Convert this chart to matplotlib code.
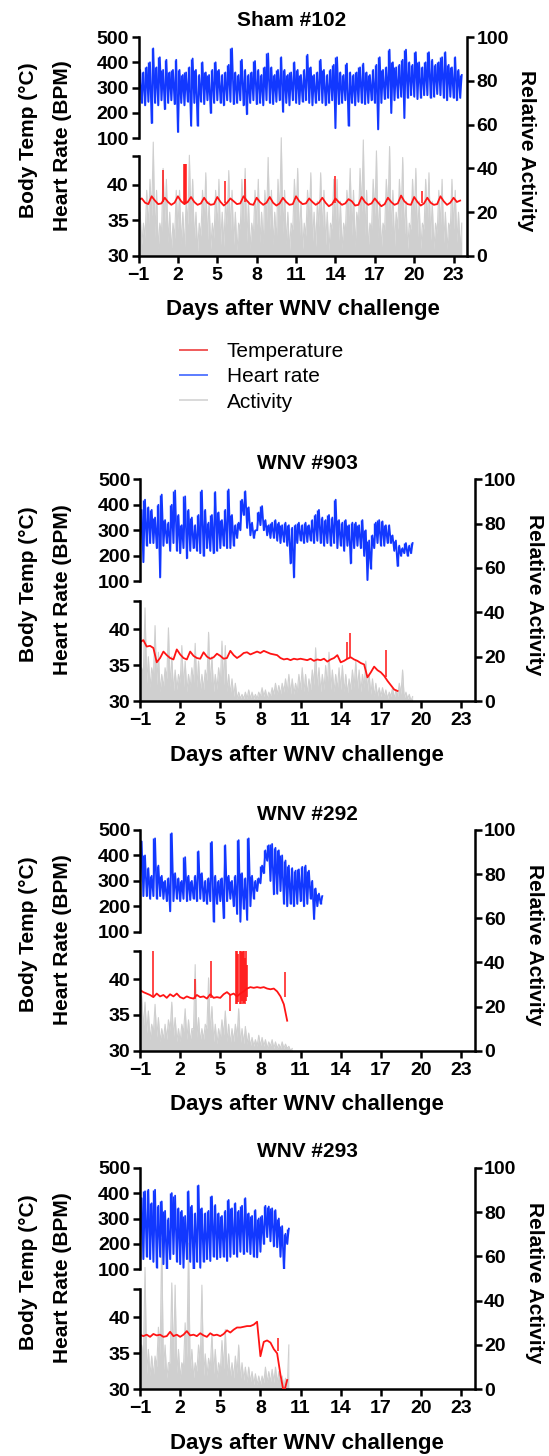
import numpy as np
import matplotlib.pyplot as plt
from matplotlib.lines import Line2D

plt.rcParams['font.family'] = ['Liberation Sans', 'DejaVu Sans']
plt.rcParams['font.weight'] = 'bold'
plt.rcParams['axes.linewidth'] = 1.8

W, H, DPI = 549, 1456, 100

titles = ['Sham #102', 'WNV #903', 'WNV #292', 'WNV #293']
day_ticks = [-1, 2, 5, 8, 11, 14, 17, 20, 23]
hr_ticks = [100, 200, 300, 400, 500]
temp_ticks = [30, 35, 40, 44]
temp_ticklabels = ['30', '35', '40', '']
act_ticks = [0, 20, 40, 60, 80, 100]
legend_labels = ['Temperature', 'Heart rate', 'Activity']

# all series: quarter-day samples starting at day -1
# ---- Sham #102 ----
hr1_hi = [370, 360, 380, 400, 455, 380, 420, 370, 410, 360, 370, 410, 370, 350, 360, 380,
          415, 370, 350, 400, 360, 350, 370, 400, 370, 350, 360, 390, 455, 360, 350, 410,
          370, 350, 360, 405, 370, 350, 380, 435, 380, 350, 370, 420, 370, 350, 360, 400,
          370, 350, 370, 430, 380, 350, 360, 410, 370, 350, 370, 390, 420, 360, 350, 395,
          360, 350, 360, 380, 395, 360, 350, 370, 390, 420, 370, 380, 450, 400, 380, 390,
          410, 450, 400, 390, 440, 400, 380, 400, 440, 410, 390, 400, 420, 440, 390, 380,
          420, 370, 350]
hr1_lo = [250, 240, 230, 245, 160, 240, 230, 250, 215, 240, 250, 235, 125, 240, 230, 245,
          150, 240, 150, 245, 235, 250, 200, 240, 250, 240, 230, 250, 245, 235, 240, 250,
          230, 195, 240, 250, 235, 240, 230, 250, 240, 235, 245, 250, 205, 240, 230, 250,
          240, 235, 245, 250, 240, 230, 240, 250, 240, 230, 240, 250, 140, 235, 240, 250,
          150, 240, 230, 245, 240, 235, 240, 250, 240, 135, 240, 255, 260, 200, 250, 260,
          265, 180, 260, 270, 265, 255, 260, 270, 270, 260, 265, 275, 270, 260, 250, 265,
          260, 250, 260]
temp1 = [37.9, 38.1, 37.5, 37.3, 38.4, 37.8, 37.3, 37.4, 38.2, 37.6, 37.2, 37.5,
         38.4, 37.7, 37.3, 37.6, 38.3, 37.6, 37.2, 37.4, 38.2, 37.5, 37.2, 37.3,
         38.3, 37.6, 37.1, 37.5, 38.1, 37.7, 37.3, 37.4, 38.4, 37.8, 37.3, 37.2,
         38.2, 37.6, 37.2, 37.5, 38.3, 37.5, 37.1, 37.4, 38.2, 37.6, 37.2, 37.3,
         38.4, 37.7, 37.3, 37.4, 38.1, 37.6, 37.2, 37.5, 38.2, 37.5, 37.0, 37.3,
         38.1, 37.6, 37.2, 37.4, 38.0, 37.7, 37.1, 37.2, 38.3, 37.6, 37.2, 37.4,
         38.1, 37.5, 37.0, 37.3, 38.2, 37.6, 37.2, 37.4, 38.5, 37.7, 37.3, 37.2,
         38.3, 37.6, 37.1, 37.4, 38.2, 37.5, 37.2, 37.3, 38.4, 37.7, 37.2, 37.5,
         38.2, 37.6, 37.8]
spike1_day = [0.85, 2.45, 2.55, 2.65, 5.6, 7.1, 14.0, 20.6]
spike1_lo = [37.6, 37.5, 37.5, 37.5, 37.5, 37.6, 37.4, 37.5]
spike1_hi = [42.1, 42.9, 42.9, 42.9, 40.6, 40.8, 41.3, 39.1]
act1_hi = [20, 15, 30, 35, 52, 30, 15, 40, 35, 20, 15, 30, 30, 20, 25, 46,
           35, 20, 15, 30, 38, 25, 15, 30, 35, 20, 25, 39, 30, 20, 15, 35,
           40, 25, 15, 30, 35, 20, 30, 45, 30, 20, 35, 54, 30, 20, 15, 35,
           40, 25, 15, 30, 38, 20, 25, 38, 30, 20, 15, 35, 35, 25, 15, 30,
           40, 30, 20, 40, 53, 30, 15, 35, 48, 25, 15, 35, 50, 30, 20, 35,
           45, 25, 15, 35, 40, 25, 15, 35, 38, 25, 15, 30, 35, 20, 15, 35,
           30, 20, 15]
act1_lo = [10, 5, 8, 12, 18, 8, 3, 10, 15, 6, 2, 8, 12, 5, 3, 14,
           15, 6, 2, 9, 14, 6, 3, 8, 12, 5, 4, 14, 10, 5, 2, 12,
           15, 6, 3, 9, 14, 6, 5, 15, 12, 5, 6, 18, 10, 5, 2, 12,
           16, 7, 3, 9, 14, 6, 4, 13, 10, 5, 2, 12, 15, 7, 3, 10,
           18, 9, 4, 14, 20, 9, 3, 12, 18, 8, 3, 12, 20, 9, 4, 12,
           16, 8, 3, 12, 15, 8, 3, 12, 14, 7, 3, 10, 13, 6, 3, 12,
           12, 6, 3]

# ---- WNV #903 ----
hr2_hi = [380, 420, 390, 380, 350, 400, 440, 340, 330, 400, 456, 360, 320, 433, 380, 350,
          320, 360, 456, 380, 330, 360, 450, 370, 340, 380, 460, 360, 320, 330, 420, 453,
          390, 330, 300, 370, 395, 340, 320, 330, 340, 330, 320, 330, 320, 310, 320, 330,
          320, 330, 320, 340, 360, 380, 350, 340, 360, 350, 420, 340, 330, 340, 320, 330,
          330, 320, 340, 300, 260, 280, 330, 340, 335, 320, 320, 280, 260, 240, 230, 250,
          240, 250]
hr2_lo = [250, 175, 240, 250, 250, 230, 115, 240, 250, 220, 250, 220, 210, 230, 190, 220,
          230, 220, 210, 200, 230, 220, 210, 220, 230, 240, 230, 230, 240, 270, 300, 360,
          310, 280, 270, 300, 320, 300, 280, 270, 270, 260, 250, 255, 240, 170, 115, 250,
          260, 250, 255, 260, 250, 260, 250, 240, 250, 240, 250, 230, 240, 220, 240, 170,
          230, 240, 230, 200, 105, 150, 230, 250, 240, 240, 250, 250, 220, 160, 200, 210,
          200, 210]
temp2 = [38.2, 38.5, 37.6, 37.7, 37.4, 35.4, 36.0, 36.9, 36.4, 36.0, 35.8, 37.2,
         36.5, 36.0, 35.8, 36.9, 36.3, 36.0, 35.9, 36.8, 36.2, 35.9, 36.1, 36.6,
         36.3, 35.9, 36.0, 37.0, 36.4, 36.0, 36.3, 36.7, 36.8, 36.5, 36.7, 36.9,
         36.7, 37.0, 36.8, 36.6, 36.5, 36.4, 36.0, 35.8, 35.9, 35.7, 35.9, 35.8,
         35.9, 35.8, 35.7, 35.9, 35.6, 35.8, 35.7, 35.9, 35.5, 35.8, 36.0, 36.4,
         35.4, 35.6, 35.9, 36.1, 35.8, 35.6, 35.3, 35.1, 33.3, 34.0, 34.8, 34.3,
         34.0, 33.5, 32.8, 32.2, 31.6, 31.4]
spike2_day = [14.5, 14.7, 17.4]
spike2_lo = [35.9, 36.0, 33.4]
spike2_hi = [38.3, 39.5, 37.1]
act2_hi = [15, 42, 20, 15, 34, 22, 12, 15, 33, 20, 14, 12, 25, 18, 12, 15,
           26, 18, 12, 14, 31, 20, 12, 15, 27, 25, 12, 10, 8, 4, 3, 4,
           5, 4, 3, 4, 6, 5, 4, 6, 8, 7, 8, 10, 12, 10, 8, 12,
           15, 12, 10, 14, 24, 15, 12, 16, 22, 14, 12, 15, 16, 12, 10, 14,
           18, 14, 12, 18, 12, 10, 8, 6, 6, 5, 4, 6, 5, 8, 14, 4,
           3, 2]
act2_lo = [6, 12, 8, 6, 10, 7, 4, 6, 10, 6, 4, 5, 8, 6, 4, 6,
           8, 6, 4, 5, 9, 6, 4, 5, 8, 7, 4, 3, 2, 1, 1, 1,
           1, 1, 1, 1, 2, 2, 1, 2, 3, 3, 3, 4, 4, 3, 3, 4,
           5, 4, 3, 5, 7, 5, 4, 5, 7, 5, 4, 5, 5, 4, 3, 5,
           6, 5, 4, 6, 4, 3, 2, 2, 2, 2, 1, 2, 1, 2, 3, 1,
           1, 0]

# ---- WNV #292 ----
hr3_hi = [455, 400, 350, 320, 467, 360, 320, 300, 310, 487, 330, 310, 300, 393, 320, 300,
          320, 416, 330, 300, 310, 453, 320, 300, 310, 440, 320, 300, 320, 460, 330, 310,
          467, 320, 300, 310, 360, 420, 440, 445, 430, 420, 400, 380, 360, 350, 340, 345,
          355, 360, 340, 300, 270, 250, 240]
hr3_lo = [300, 240, 240, 230, 240, 230, 240, 230, 220, 180, 220, 230, 220, 230, 220, 225,
          230, 220, 230, 220, 210, 220, 140, 210, 220, 153, 220, 230, 200, 170, 140, 190,
          147, 200, 230, 260, 290, 330, 380, 300, 247, 250, 260, 210, 200, 210, 200, 210,
          220, 200, 210, 230, 150, 200, 210]
temp3 = [38.5, 38.2, 38.0, 37.8, 37.5, 38.0, 37.6, 37.8, 37.4, 37.9, 37.6, 38.0,
         37.5, 37.3, 37.6, 37.4, 37.3, 37.8, 37.5, 37.6, 37.3, 37.9, 37.4, 37.5,
         37.4, 37.9, 38.2, 37.8, 38.0, 37.6, 38.0, 38.3, 38.7, 38.9, 38.8, 38.9,
         38.8, 38.9, 38.7, 38.6, 38.7, 38.3, 37.6, 36.5, 34.2]
spike3_day = [-0.05, 3.1, 4.3, 5.7, 6.2, 6.28, 6.36, 6.44, 6.52, 6.6, 6.68, 6.76, 6.84, 6.92, 7.0, 9.85]
spike3_lo = [37.6, 37.3, 37.4, 35.6, 36.6, 36.5, 36.8, 36.5, 36.6, 36.9, 36.5, 36.7, 36.6, 37.0, 37.5, 37.5]
spike3_hi = [44.0, 40.0, 42.6, 38.0, 44.0, 44.0, 43.5, 44.0, 44.0, 43.8, 44.0, 44.0, 43.0, 44.0, 42.0, 41.0]
act3_hi = [25, 22, 18, 12, 21, 15, 10, 12, 14, 22, 15, 10, 12, 19, 14, 10,
           39, 15, 10, 12, 33, 20, 12, 10, 14, 18, 12, 10, 12, 19, 10, 11,
           8, 6, 5, 7, 6, 5, 4, 5, 4, 3, 4, 3, 2, 1]
act3_lo = [12, 10, 8, 5, 8, 6, 4, 5, 5, 9, 6, 4, 4, 8, 5, 4,
           10, 6, 4, 5, 10, 7, 4, 3, 5, 7, 4, 3, 4, 6, 3, 3,
           3, 2, 2, 2, 2, 2, 1, 2, 1, 1, 1, 1, 1, 0]

# ---- WNV #293 ----
hr4_hi = [380, 407, 413, 360, 413, 350, 367, 330, 300, 400, 390, 340, 330, 310, 407, 350,
          320, 430, 340, 320, 330, 387, 353, 320, 310, 330, 373, 340, 360, 330, 350, 380,
          320, 310, 333, 300, 310, 350, 347, 340, 333, 300, 270, 240, 260]
hr4_lo = [150, 140, 150, 140, 130, 107, 150, 120, 100, 140, 160, 130, 120, 107, 140, 130,
          100, 130, 107, 130, 140, 133, 150, 140, 147, 150, 133, 150, 160, 150, 170, 160,
          170, 160, 150, 147, 170, 200, 227, 210, 190, 187, 150, 100, 200]
temp4 = [37.6, 37.4, 37.6, 37.3, 37.7, 37.5, 37.6, 37.3, 37.4, 38.0, 37.4, 37.6,
         37.3, 37.6, 38.1, 37.5, 37.6, 37.4, 37.8, 37.5, 37.3, 37.8, 37.5, 37.6,
         37.4, 37.7, 38.2, 37.9, 38.3, 38.6, 38.6, 38.7, 38.8, 38.8, 39.0, 39.4,
         34.6, 36.6, 36.8, 36.5, 35.6, 35.0, 32.0, 29.5, 31.3]
spike4_day = [9.3]
spike4_lo = [35.3]
spike4_hi = [37.2]
act4_hi = [20, 55, 18, 15, 15, 28, 68, 20, 12, 48, 47, 18, 12, 30, 66, 18,
           12, 20, 47, 16, 14, 25, 18, 12, 22, 27, 16, 12, 15, 20, 12, 10,
           10, 8, 7, 6, 6, 10, 8, 9, 10, 8, 6, 5, 20]
act4_lo = [8, 12, 7, 6, 6, 10, 15, 8, 5, 12, 12, 7, 5, 10, 14, 7,
           5, 8, 12, 6, 6, 9, 7, 5, 8, 9, 6, 5, 5, 7, 4, 4,
           3, 3, 2, 2, 2, 3, 3, 3, 3, 3, 2, 1, 0]

panels = [
    dict(hr_hi=hr1_hi, hr_lo=hr1_lo, temp=temp1, act_hi=act1_hi, act_lo=act1_lo,
         sd=spike1_day, slo=spike1_lo, shi=spike1_hi),
    dict(hr_hi=hr2_hi, hr_lo=hr2_lo, temp=temp2, act_hi=act2_hi, act_lo=act2_lo,
         sd=spike2_day, slo=spike2_lo, shi=spike2_hi),
    dict(hr_hi=hr3_hi, hr_lo=hr3_lo, temp=temp3, act_hi=act3_hi, act_lo=act3_lo,
         sd=spike3_day, slo=spike3_lo, shi=spike3_hi),
    dict(hr_hi=hr4_hi, hr_lo=hr4_lo, temp=temp4, act_hi=act4_hi, act_lo=act4_lo,
         sd=spike4_day, slo=spike4_lo, shi=spike4_hi),
]

# layout in pixels (left, right, hr top, hr bottom, temp top, temp bottom, title shift)
boxes = [
    (138.5, 466.7, 37.0, 138.3, 156.5, 256.0, -11),
    (140.0, 474.5, 479.3, 581.3, 600.7, 701.0, 0),
    (140.0, 474.5, 830.0, 931.7, 950.7, 1050.7, 0),
    (140.0, 474.5, 1167.7, 1269.3, 1288.7, 1389.3, 0),
]

BLUE = '#1238ff'
RED = '#ff1414'
GRAY = '#cfcfcf'


def rect(left, right, top, bottom):
    return [left / W, 1 - bottom / H, (right - left) / W, (bottom - top) / H]


def quarter_days(vals):
    return -1 + 0.25 * np.arange(len(vals))


def zigzag(lo, hi):
    t = quarter_days(hi)
    x = np.column_stack([t, t + 0.125]).ravel()
    y = np.column_stack([lo, hi]).ravel()
    return x, y


fig = plt.figure(figsize=(W / DPI, H / DPI), dpi=DPI)

tick_kw = dict(direction='out', length=5, width=1.8, labelsize=14)

for p, box, title in zip(panels, boxes, titles):
    left, right, hr_top, hr_bot, t_top, t_bot, tshift = box

    ax_a = fig.add_axes(rect(left, right, hr_top, t_bot))
    ax_t = fig.add_axes(rect(left, right, t_top, t_bot))
    ax_h = fig.add_axes(rect(left, right, hr_top, hr_bot))

    # activity (right axis, whole panel height)
    xa, ya = zigzag(p['act_lo'], p['act_hi'])
    ax_a.fill_between(xa, 0, ya, color=GRAY, lw=0)
    ax_a.plot(xa, ya, color=GRAY, lw=0.8)
    ax_a.set_xlim(-1, 24)
    ax_a.set_ylim(0, 100)
    ax_a.set_xticks(day_ticks)
    ax_a.set_yticks(act_ticks)
    ax_a.yaxis.tick_right()
    ax_a.spines['top'].set_visible(False)
    ax_a.spines['left'].set_visible(False)
    ax_a.tick_params(**tick_kw)
    ax_a.tick_params(axis='x', pad=3)
    ax_a.tick_params(axis='y', pad=2)

    # temperature
    ax_t.plot(quarter_days(p['temp']), p['temp'], color=RED, lw=1.3)
    ax_t.vlines(p['sd'], p['slo'], p['shi'], color=RED, lw=1.1)
    ax_t.set_xlim(-1, 24)
    ax_t.set_ylim(30, 44)
    ax_t.set_yticks(temp_ticks)
    ax_t.set_yticklabels(temp_ticklabels)
    ax_t.set_xticks([])
    ax_t.patch.set_alpha(0)
    for s in ['top', 'right', 'bottom']:
        ax_t.spines[s].set_visible(False)
    ax_t.tick_params(**tick_kw)
    ax_t.tick_params(axis='y', pad=2)

    # heart rate
    xh, yh = zigzag(p['hr_lo'], p['hr_hi'])
    ax_h.vlines(quarter_days(p['hr_hi']), p['hr_lo'], p['hr_hi'], color=BLUE, lw=1.0)
    ax_h.plot(xh, yh, color=BLUE, lw=1.3)
    ax_h.set_xlim(-1, 24)
    ax_h.set_ylim(100, 500)
    ax_h.set_yticks(hr_ticks)
    ax_h.set_xticks([])
    ax_h.patch.set_alpha(0)
    for s in ['top', 'right', 'bottom']:
        ax_h.spines[s].set_visible(False)
    ax_h.tick_params(**tick_kw)
    ax_h.tick_params(axis='y', pad=2)

    cx = (left + right) / 2
    cy = (hr_top + t_bot) / 2
    fig.text((cx + tshift) / W, 1 - (hr_top - 16) / H, title, ha='center', va='center', size=15)
    fig.text(cx / W, 1 - (t_bot + 54) / H, 'Days after WNV challenge',
             ha='center', va='center', size=16)
    fig.text(28 / W, 1 - (cy - 6) / H, 'Body Temp (°C)', rotation=90,
             ha='center', va='center', size=15)
    fig.text(62 / W, 1 - (cy - 1) / H, 'Heart Rate (BPM)', rotation=90,
             ha='center', va='center', size=15)
    fig.text((right + 60) / W, 1 - (cy + 4) / H, 'Relative Activity', rotation=270,
             ha='center', va='center', size=15)

handles = [Line2D([], [], color='#f05a5a', lw=1.4),
           Line2D([], [], color='#5b7cff', lw=1.4),
           Line2D([], [], color='#d9d9d9', lw=1.4)]
fig.legend(handles, legend_labels, loc='upper left',
           bbox_to_anchor=(180 / W, 1 - 342 / H), frameon=False,
           prop={'weight': 'normal', 'size': 15}, handlelength=1.3,
           handletextpad=0.95, labelspacing=0.3, borderpad=0, borderaxespad=0)

fig.savefig('out.png', dpi=DPI)
